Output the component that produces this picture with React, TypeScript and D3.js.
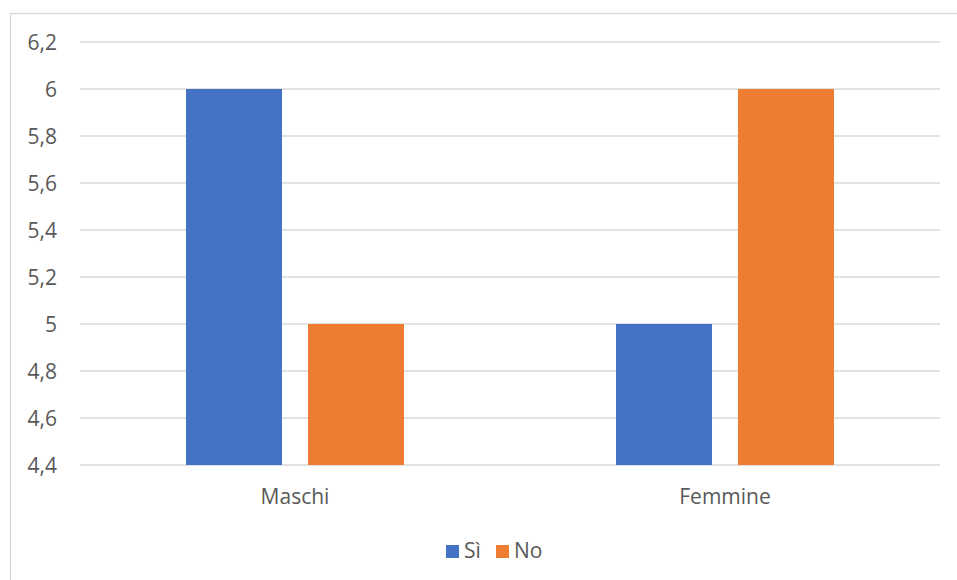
import React from "react";
import * as d3 from "d3";

const categories = ["Maschi", "Femmine"];
const seriesNames = ["Sì", "No"];
const siValues = [6, 5];
const noValues = [5, 6];
const yTicks = [4.4, 4.6, 4.8, 5, 5.2, 5.4, 5.6, 5.8, 6, 6.2];
const colors = ["#4472C4", "#ED7D31"];

const W = 957;
const H = 580;
const plot = { left: 80, right: 940, top: 42, bottom: 465 };
const font = "'Open Sans', 'Liberation Sans', sans-serif";
const textColor = "#595959";

export default function App() {
  const x = d3.scaleBand<string>().domain(categories).range([plot.left, plot.right]);
  const y = d3.scaleLinear().domain([4.4, 6.2]).range([plot.bottom, plot.top]);
  const inner = d3
    .scaleBand<string>()
    .domain(seriesNames)
    .range([0, x.bandwidth()])
    .paddingInner(0.213)
    .paddingOuter(0.869);
  const series = [siValues, noValues];
  const fmt = (v: number) => d3.format(".1~f")(v).replace(".", ",");

  return (
    <div style={{ position: "fixed", left: 0, top: 0, width: W, height: H, background: "#fff" }}>
      <svg width={W} height={H} style={{ display: "block" }}>
        <rect x={10.5} y={13.5} width={W + 10} height={H + 10} fill="#fff" stroke="#d9d9d9" strokeWidth={1.3} />
        {yTicks.map((t) => (
          <g key={t}>
            <line x1={plot.left} x2={plot.right} y1={y(t)} y2={y(t)} stroke="#d9d9d9" strokeWidth={1.3} />
            <text x={57} y={y(t) + 8} textAnchor="end" fontSize={21} fill={textColor} fontFamily={font}>
              {fmt(t)}
            </text>
          </g>
        ))}
        {categories.map((c, ci) =>
          seriesNames.map((s, si) => {
            const v = series[si][ci];
            return (
              <rect
                key={c + s}
                x={(x(c) ?? 0) + (inner(s) ?? 0)}
                y={y(v)}
                width={inner.bandwidth()}
                height={y(4.4) - y(v)}
                fill={colors[si]}
              />
            );
          })
        )}
        {categories.map((c) => (
          <text
            key={c}
            x={(x(c) ?? 0) + x.bandwidth() / 2}
            y={504}
            textAnchor="middle"
            fontSize={21}
            fill={textColor}
            fontFamily={font}
          >
            {c}
          </text>
        ))}
        <g>
          <rect x={446} y={545} width={13} height={13} fill={colors[0]} />
          <text x={464} y={558} fontSize={21} fill={textColor} fontFamily={font}>
            {seriesNames[0]}
          </text>
          <rect x={496} y={545} width={13} height={13} fill={colors[1]} />
          <text x={514} y={558} fontSize={21} fill={textColor} fontFamily={font}>
            {seriesNames[1]}
          </text>
        </g>
      </svg>
    </div>
  );
}
